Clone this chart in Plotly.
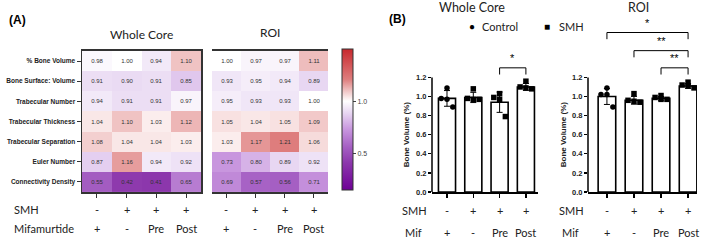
import plotly.graph_objects as go
import numpy as np

W, H = 709, 245

# ---------------- data ----------------
metrics = ["% Bone Volume", "Bone Surface: Volume", "Trabecular Number", "Trabecular Thickness",
           "Trabecular Separation", "Euler Number", "Connectivity Density"]
groups = ["Ctrl+Mif", "SMH", "SMH+Pre", "SMH+Post"]
smh_labels = ["-", "+", "+", "+"]
mif_labels = ["+", "-", "Pre", "Post"]

whole_core = [
    [0.98, 1.00, 0.94, 1.10],
    [0.91, 0.90, 0.91, 0.85],
    [0.94, 0.91, 0.91, 0.97],
    [1.04, 1.10, 1.03, 1.12],
    [1.08, 1.04, 1.04, 1.03],
    [0.87, 1.16, 0.94, 0.92],
    [0.55, 0.42, 0.41, 0.65],
]
roi = [
    [1.00, 0.97, 0.97, 1.11],
    [0.93, 0.95, 0.94, 0.89],
    [0.95, 0.93, 0.93, 1.00],
    [1.05, 1.04, 1.05, 1.09],
    [1.03, 1.17, 1.21, 1.06],
    [0.73, 0.80, 0.89, 0.92],
    [0.69, 0.57, 0.56, 0.71],
]

# individual bone volume points (relative)
wc_points = [
    [1.09, 0.97, 0.98, 0.89],
    [1.08, 0.97, 0.98, 0.97],
    [1.03, 0.99, 0.97, 0.79],
    [1.16, 1.08, 1.10, 1.09],
]
roi_points = [
    [1.09, 1.02, 1.02, 0.89],
    [1.03, 0.95, 0.96, 0.94],
    [1.01, 0.99, 0.97, 0.97],
    [1.09, 1.11, 1.12, 1.15],
]
wc_bars = [0.98, 0.99, 0.94, 1.10]
roi_bars = [1.00, 0.96, 0.98, 1.11]

# significance brackets: (from, to, level, label)
wc_sig = [(2, 3, 1.30, "*")]
roi_sig = [(0, 3, 1.67, "*"), (1, 3, 1.48, "**"), (2, 3, 1.30, "**")]

# ---------------- helpers ----------------
def px_x(p):
    return p / W

def px_y(p):
    return 1 - p / H

FONT = "Liberation Sans"
TITLE_FONT = "Lato"

colorscale = [
    [0.0, "rgb(110,0,150)"],
    [0.193, "rgb(140,55,172)"],
    [0.304, "rgb(165,95,195)"],
    [0.43, "rgb(200,150,222)"],
    [0.548, "rgb(232,215,242)"],
    [0.63, "rgb(255,255,255)"],
    [0.704, "rgb(240,195,195)"],
    [0.785, "rgb(222,125,125)"],
    [1.0, "rgb(200,40,45)"],
]
ZMIN, ZMAX = 0.15, 1.5

fig = go.Figure()

cols = list(range(4))
fig.add_trace(go.Heatmap(
    z=whole_core, x=cols, y=metrics, xaxis="x", yaxis="y",
    colorscale=colorscale, zmin=ZMIN, zmax=ZMAX,
    texttemplate="%{z:.2f}", textfont=dict(size=6, color="#333", family=FONT),
    showscale=True,
    colorbar=dict(x=px_x(342), xanchor="left", xpad=0, y=px_y(194), yanchor="bottom", ypad=0,
                  len=141, lenmode="pixels", thickness=11, thicknessmode="pixels",
                  outlinecolor="#333", outlinewidth=1,
                  tickvals=[0.5, 1.0], ticktext=["0.5", "1.0"], ticks="outside", ticklen=3,
                  tickcolor="#444", tickfont=dict(size=7, color="#444", family=FONT)),
    hoverinfo="skip",
))
fig.add_trace(go.Heatmap(
    z=roi, x=cols, y=metrics, xaxis="x2", yaxis="y2",
    colorscale=colorscale, zmin=ZMIN, zmax=ZMAX,
    texttemplate="%{z:.2f}", textfont=dict(size=6, color="#333", family=FONT),
    showscale=False, hoverinfo="skip",
))

# bar charts
def add_bars(vals, pts, xa, ya):
    fig.add_trace(go.Bar(
        x=cols, y=vals, xaxis=xa, yaxis=ya, width=0.65,
        marker=dict(color="white", line=dict(color="black", width=1.6)),
        error_y=dict(type="data", array=[float(np.std(p, ddof=1)) for p in pts],
                     color="black", thickness=1, width=3),
        showlegend=False, hoverinfo="skip",
    ))
    offsets = [0.0, -0.22, 0.0, 0.22]
    for i, p in enumerate(pts):
        order = np.argsort(p)[::-1]
        xs = [i + offsets[k] for k in range(len(p))]
        ys = [p[j] for j in order]
        fig.add_trace(go.Scatter(
            x=xs, y=ys, xaxis=xa, yaxis=ya, mode="markers",
            marker=dict(color="black", size=5.5, symbol="circle" if i == 0 else "square"),
            showlegend=False, hoverinfo="skip", cliponaxis=False,
        ))

add_bars(wc_bars, wc_points, "x3", "y3")
add_bars(roi_bars, roi_points, "x4", "y4")

hm_ydom = [px_y(196), px_y(52)]
bar_ydom = [px_y(196), px_y(196 - 1.8 * 97.5)]

axis_common = dict(showgrid=False, zeroline=False)
fig.update_layout(
    width=W, height=H, margin=dict(l=0, r=0, t=0, b=0),
    paper_bgcolor="white", plot_bgcolor="white",
    font=dict(family=FONT, color="#222"),
    showlegend=False,
    xaxis=dict(domain=[px_x(82), px_x(201)], range=[-0.5, 3.5], tickvals=cols, showticklabels=False,
               ticks="outside", ticklen=4, tickcolor="#333", showline=True, mirror=True,
               linecolor="#333", linewidth=1.5, **axis_common),
    yaxis=dict(domain=hm_ydom, autorange="reversed", ticks="outside", ticklen=4, tickcolor="#333",
               tickfont=dict(size=6.5, family=FONT, weight="bold", color="#222"),
               showline=True, mirror=True, linecolor="#333", linewidth=1.5, **axis_common),
    xaxis2=dict(domain=[px_x(212), px_x(328)], range=[-0.5, 3.5], tickvals=cols, showticklabels=False,
                ticks="outside", ticklen=4, tickcolor="#333", showline=True, mirror=True,
                linecolor="#333", linewidth=1.5, **axis_common),
    yaxis2=dict(domain=hm_ydom, autorange="reversed", showticklabels=False, ticks="",
                showline=True, mirror=True, linecolor="#333", linewidth=1.5, **axis_common),
    xaxis3=dict(domain=[px_x(432), px_x(538)], range=[-0.57, 3.46], tickvals=cols, showticklabels=False,
                ticks="outside", ticklen=4, tickwidth=1.3, tickcolor="black", showline=True,
                linecolor="black", linewidth=1.5, anchor="y3", **axis_common),
    yaxis3=dict(domain=bar_ydom, range=[0, 1.8], tickvals=[0, 0.2, 0.4, 0.6, 0.8, 1.0, 1.2],
                ticktext=["0.0", "0.2", "0.4", "0.6", "0.8", "1.0", "1.2"], ticks="outside", ticklen=3,
                tickwidth=1.3, tickcolor="black", tickfont=dict(size=7.5, weight="bold", color="#222"),
                showline=False, anchor="x3", **axis_common),
    xaxis4=dict(domain=[px_x(588), px_x(697)], range=[-0.7, 3.33], tickvals=cols, showticklabels=False,
                ticks="outside", ticklen=4, tickwidth=1.3, tickcolor="black", showline=True,
                linecolor="black", linewidth=1.5, anchor="y4", **axis_common),
    yaxis4=dict(domain=bar_ydom, range=[0, 1.8], tickvals=[0, 0.2, 0.4, 0.6, 0.8, 1.0, 1.2],
                ticktext=["0.0", "0.2", "0.4", "0.6", "0.8", "1.0", "1.2"], ticks="outside", ticklen=3,
                tickwidth=1.3, tickcolor="black", tickfont=dict(size=7.5, weight="bold", color="#222"),
                showline=False, anchor="x4", **axis_common),
)

shapes = []
# y-axis lines for bar charts (0 to 1.2)
for xa, ya in [("x3", "y3"), ("x4", "y4")]:
    shapes.append(dict(type="line", xref=f"{xa} domain", yref=ya, x0=0, x1=0, y0=0, y1=1.2,
                       line=dict(color="black", width=1.5)))

annotations = []

def ann(text, x, y, size=11, xanchor="center", yanchor="middle", xref="paper", yref="paper",
        family=FONT, weight=None, angle=0, color="#222"):
    f = dict(size=size, family=family, color=color)
    if weight:
        f["weight"] = weight
    annotations.append(dict(text=text, x=x, y=y, xref=xref, yref=yref, showarrow=False,
                            xanchor=xanchor, yanchor=yanchor, font=f, textangle=angle))

# brackets
for sig, xa, ya in [(wc_sig, "x3", "y3"), (roi_sig, "x4", "y4")]:
    for i, j, lvl, lab in sig:
        drop = 0.07
        shapes.append(dict(type="path", xref=xa, yref=ya,
                           path=f"M {i},{lvl - drop} L {i},{lvl} L {j},{lvl} L {j},{lvl - drop}",
                           line=dict(color="black", width=1)))
        ann(lab, (i + j) / 2, lvl + 0.02, size=11, xref=xa, yref=ya, yanchor="bottom", color="black")

# Panel A text
ann("(A)", px_x(7), px_y(20), size=12, xanchor="left", weight="bold", color="black")
ann("Whole Core", px_x(141), px_y(35), size=12, family=TITLE_FONT)
ann("ROI", px_x(270), px_y(33), size=12, family=TITLE_FONT)
ann("SMH", px_x(12), px_y(214), size=11, xanchor="left", family=TITLE_FONT)
ann("Mifamurtide", px_x(12), px_y(233), size=11, xanchor="left", family=TITLE_FONT)
for xa in ["x", "x2"]:
    for c in cols:
        ann(smh_labels[c], c, px_y(214), size=11, xref=xa, family=TITLE_FONT)
        ann(mif_labels[c], c, px_y(233), size=11, xref=xa, family=TITLE_FONT)

# Panel B text
ann("(B)", px_x(387), px_y(19), size=12, xanchor="left", weight="bold", color="black")
ann("Whole Core", px_x(472), px_y(8), size=12.5, family=TITLE_FONT)
ann("ROI", px_x(638), px_y(8), size=12.5, family=TITLE_FONT)
ann("●", px_x(472), px_y(27), size=10, color="black")
ann("Control", px_x(480), px_y(27), size=11, xanchor="left", family=TITLE_FONT)
ann("■", px_x(547), px_y(27), size=10, color="black")
ann("SMH", px_x(557), px_y(27), size=11, xanchor="left", family=TITLE_FONT)
ann("Bone Volume (%)", px_x(406), px_y(137), size=8, weight="bold", angle=-90)
ann("Bone Volume (%)", px_x(563), px_y(137), size=8, weight="bold", angle=-90)
for xa, sx in [("x3", 400), ("x4", 557)]:
    ann("SMH", px_x(sx), px_y(215), size=11, xanchor="left", family=TITLE_FONT)
    ann("Mif", px_x(sx + 3), px_y(237), size=11, xanchor="left", family=TITLE_FONT)
    for c in cols:
        ann(smh_labels[c], c, px_y(215), size=11, xref=xa, family=TITLE_FONT)
        ann(mif_labels[c], c, px_y(237), size=11, xref=xa, family=TITLE_FONT)

fig.update_layout(shapes=shapes, annotations=annotations)
fig.write_html("out.html", config={"displayModeBar": False, "staticPlot": True},
               post_script="document.body.style.margin='0px';document.body.style.overflow='hidden';")
